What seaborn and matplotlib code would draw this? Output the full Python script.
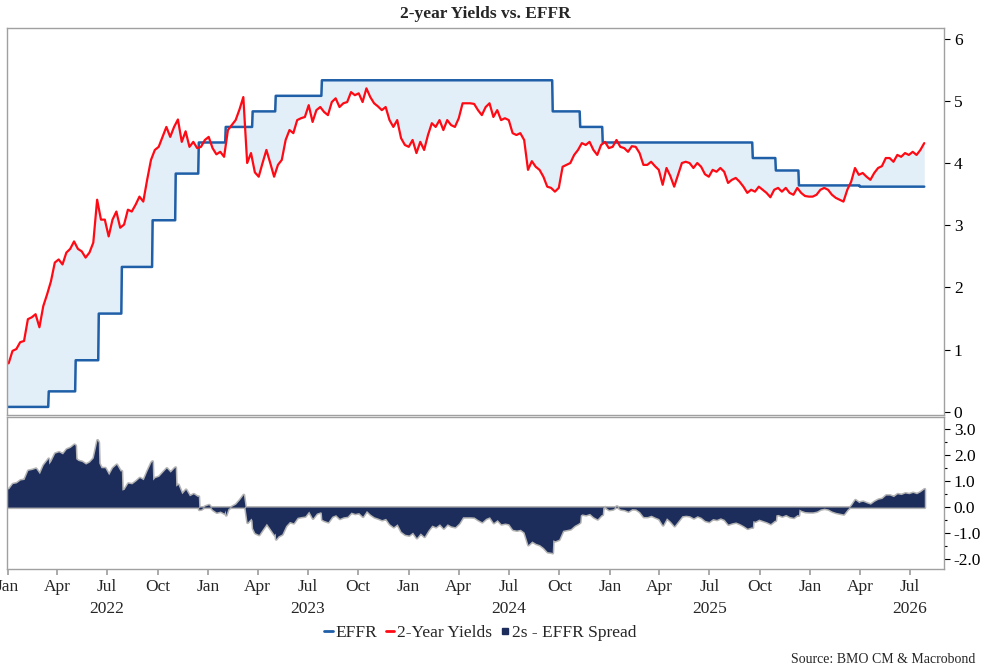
import numpy as np
import pandas as pd
import matplotlib
matplotlib.use("Agg")
import matplotlib.pyplot as plt
import matplotlib.dates as mdates
import matplotlib.transforms as mtransforms
from matplotlib.lines import Line2D
import seaborn as sns

# weekly 2-year Treasury yield (Mondays from 2022-01-03)
yield_start = "2022-01-03"
yields_2y = [
    0.78, 0.98, 1.01, 1.12, 1.14, 1.49, 1.52, 1.57, 1.36, 1.70,
    1.89, 2.10, 2.40, 2.45, 2.37, 2.56, 2.62, 2.74, 2.62, 2.58,
    2.48, 2.56, 2.72, 3.41, 3.09, 3.09, 2.82, 3.09, 3.22, 2.96,
    3.01, 3.25, 3.22, 3.33, 3.46, 3.38, 3.73, 4.05, 4.21, 4.26,
    4.42, 4.58, 4.42, 4.58, 4.70, 4.34, 4.51, 4.26, 4.34, 4.24,
    4.26, 4.37, 4.42, 4.24, 4.14, 4.18, 4.10, 4.53, 4.61, 4.69,
    4.86, 5.06, 4.00, 4.16, 3.85, 3.78, 4.00, 4.21, 4.00, 3.78,
    3.97, 4.05, 4.37, 4.53, 4.48, 4.69, 4.72, 4.74, 4.93, 4.66,
    4.85, 4.90, 4.82, 4.77, 4.98, 5.04, 4.90, 4.96, 4.98, 5.14,
    5.09, 5.12, 4.98, 5.20, 5.06, 4.96, 4.91, 4.85, 4.90, 4.69,
    4.58, 4.69, 4.40, 4.29, 4.26, 4.37, 4.16, 4.34, 4.21, 4.45,
    4.64, 4.58, 4.69, 4.53, 4.69, 4.61, 4.58, 4.72, 4.96, 4.96,
    4.96, 4.95, 4.85, 4.77, 4.90, 4.96, 4.74, 4.85, 4.69, 4.72,
    4.69, 4.48, 4.45, 4.48, 4.37, 3.89, 4.03, 3.94, 3.89, 3.78,
    3.62, 3.60, 3.54, 3.60, 3.94, 3.97, 4.00, 4.13, 4.21, 4.32,
    4.29, 4.34, 4.21, 4.13, 4.29, 4.34, 4.24, 4.26, 4.37, 4.26,
    4.24, 4.18, 4.27, 4.26, 4.16, 3.97, 3.97, 4.02, 3.95, 3.89,
    3.65, 3.92, 3.79, 3.62, 3.81, 4.00, 4.02, 4.00, 3.92, 4.00,
    3.94, 3.82, 3.78, 3.89, 3.86, 3.92, 3.86, 3.68, 3.73, 3.76,
    3.70, 3.62, 3.52, 3.57, 3.54, 3.62, 3.57, 3.52, 3.45, 3.57,
    3.60, 3.54, 3.60, 3.52, 3.49, 3.60, 3.52, 3.47, 3.46, 3.46,
    3.49, 3.57, 3.60, 3.57, 3.49, 3.44, 3.41, 3.38, 3.57, 3.70,
    3.92, 3.81, 3.84, 3.78, 3.73, 3.84, 3.92, 3.95, 4.08, 4.08,
    4.02, 4.13, 4.10, 4.16, 4.13, 4.18, 4.13, 4.21, 4.32,
]

# effective fed funds rate: change dates and levels
effr_dates = [
    "2022-01-01", "2022-03-17", "2022-05-05", "2022-06-16", "2022-07-28",
    "2022-09-22", "2022-11-03", "2022-12-15", "2023-02-02", "2023-03-23",
    "2023-05-04", "2023-07-27", "2024-09-19", "2024-11-08", "2024-12-19",
    "2025-09-18", "2025-10-30", "2025-12-11", "2026-04-01",
]
effr_levels = [
    0.08, 0.33, 0.83, 1.58, 2.33,
    3.08, 3.83, 4.33, 4.58, 4.83,
    5.08, 5.33, 4.83, 4.58, 4.33,
    4.08, 3.88, 3.64, 3.62,
]

month_ticks = [1, 4, 7, 10]
years = [2022, 2023, 2024, 2025, 2026]

EFFR_BLUE = "#1f5fa8"
YIELD_RED = "#ff0a14"
FILL_BLUE = "#e3eff8"
NAVY = "#1c2d5b"
EDGE_GRAY = "#b4b4b4"
FRAME = "#a0a0a0"

weeks = pd.date_range(yield_start, periods=len(yields_2y), freq="7D")
df = pd.DataFrame({"date": weeks, "yield": yields_2y})

# EFFR as a daily step series over the span of the yield data
days = pd.date_range(effr_dates[0], weeks[-1], freq="D")
effr_s = pd.Series(effr_levels, index=pd.to_datetime(effr_dates))
effr_daily = effr_s.reindex(days).ffill()
effr_df = pd.DataFrame({"date": days, "effr": effr_daily.values})
effr_df = effr_df[effr_df["date"] >= weeks[0] - pd.Timedelta(days=2)]

# geometry for the shaded areas: the drawn (straight-segment) yield line on the daily grid
d_num = mdates.date2num(effr_df["date"])
y_line = np.interp(d_num, mdates.date2num(df["date"]), df["yield"])
spread = y_line - effr_df["effr"].values

sns.set_theme(style="white")
plt.rcParams["font.family"] = ["Liberation Serif", "DejaVu Serif"]
plt.rcParams["axes.unicode_minus"] = False

fig = plt.figure(figsize=(9.9, 6.7), dpi=100)
ax1 = fig.add_axes([0.00707, 0.3806, 0.9465, 0.5776])
ax2 = fig.add_axes([0.00707, 0.1507, 0.9465, 0.2269], sharex=ax1)

# top panel
ax1.fill_between(effr_df["date"], y_line, effr_df["effr"], color=FILL_BLUE, lw=0)
sns.lineplot(data=effr_df, x="date", y="effr", ax=ax1, color=EFFR_BLUE, lw=1.8)
sns.lineplot(data=df, x="date", y="yield", ax=ax1, color=YIELD_RED, lw=1.6)
ax1.set_ylim(-0.05, 6.17)
ax1.set_yticks(range(0, 7))

# bottom panel
ax2.fill_between(effr_df["date"], 0, spread, color=EDGE_GRAY, lw=2.2,
                 edgecolor=EDGE_GRAY)
ax2.fill_between(effr_df["date"], 0, spread, color=NAVY, lw=0)
ax2.set_ylim(-2.38, 3.46)
ax2.set_yticks([3, 2, 1, 0, -1, -2])
ax2.yaxis.set_major_formatter(matplotlib.ticker.FormatStrFormatter("%.1f"))
ax2.yaxis.set_minor_locator(matplotlib.ticker.MultipleLocator(0.5))

ax1.set_xlim(pd.Timestamp("2021-12-31"), pd.Timestamp("2026-09-01"))
ax2.xaxis.set_major_locator(mdates.MonthLocator(bymonth=month_ticks))
ax2.xaxis.set_major_formatter(mdates.DateFormatter("%b"))

for ax in (ax1, ax2):
    ax.set_xlabel("")
    ax.set_ylabel("")
    ax.yaxis.tick_right()
    for sp in ax.spines.values():
        sp.set_color(FRAME)
        sp.set_linewidth(1.0)
    ax.tick_params(axis="y", which="both", direction="out", colors="black",
                   labelsize=12.5, pad=3, right=True, left=False)
    ax.tick_params(axis="y", which="major", length=4, width=0.8)
    ax.tick_params(axis="y", which="minor", length=2.5, width=0.8)

ax1.tick_params(axis="x", bottom=False, labelbottom=False)
ax2.tick_params(axis="x", which="major", direction="out", length=4,
                color=FRAME, labelsize=12.5, pad=3, bottom=True)

trans = mtransforms.blended_transform_factory(ax2.transData, ax2.transAxes)
for yr in years:
    ax2.text(pd.Timestamp(f"{yr}-07-01"), -0.26, str(yr), transform=trans,
             ha="center", va="center", fontsize=12.5)

fig.text(0.49, 0.979, "2-year Yields vs. EFFR", ha="center", va="center",
         fontsize=12.5, fontweight="bold")

handles = [
    Line2D([], [], color=EFFR_BLUE, lw=2),
    Line2D([], [], color=YIELD_RED, lw=2),
    Line2D([], [], color=NAVY, marker="s", ls="", markersize=5),
]
fig.legend(handles, ["EFFR", "2-Year Yields", "2s - EFFR Spread"],
           loc="center", bbox_to_anchor=(0.485, 0.055), ncol=3, frameon=False,
           fontsize=12.5, handlelength=0.5, handletextpad=0.15,
           columnspacing=0.5)

fig.text(0.985, 0.015, "Source: BMO CM & Macrobond", ha="right",
         va="center", fontsize=10)

fig.savefig("out.png", dpi=100)
